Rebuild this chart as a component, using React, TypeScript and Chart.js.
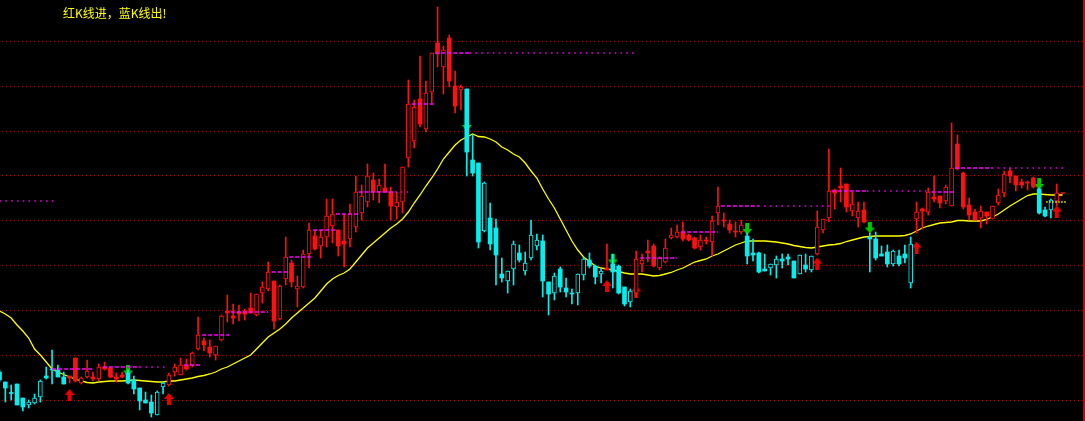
import { useEffect, useRef } from "react";
import { Chart, registerables } from "chart.js";

Chart.register(...registerables);

// ---- candle data (index 0..181) ----
const OPEN = [
  4.28, 4.18, 4.075, 4.16, 4.02, 3.95, 3.97, 4.03, 4.24, 4.31,
  4.30, 4.23, 4.24, 4.42, 4.17, 4.23, 4.23, 4.21, 4.33, 4.32,
  4.23, 4.25, 4.27, 4.20, 4.12, 4.00, 3.98, 3.85, 4.13, 4.15,
  4.28, 4.25, 4.35, 4.34, 4.51, 4.59, 4.53, 4.45, 4.60, 4.89,
  4.84, 4.88, 4.88, 4.92, 4.85, 5.07, 5.11, 5.19, 4.81, 5.21,
  5.37, 5.11, 5.13, 5.46, 5.64, 5.54, 5.63, 5.74, 5.70, 5.59,
  5.61, 5.73, 5.87, 5.98, 6.20, 6.08, 6.12, 6.08, 5.93, 5.98,
  6.42, 6.59, 7.01, 6.71, 7.08, 7.57, 7.33, 7.62, 7.14, 7.10,
  7.11, 6.40, 6.37, 5.69, 5.82, 5.72, 5.26, 5.19, 5.31, 5.47,
  5.29, 5.42, 5.54, 5.59, 5.18, 5.07, 5.31, 5.12, 5.07, 5.07,
  5.25, 5.40, 5.34, 5.26, 5.32, 5.36, 5.34, 5.13, 4.98, 5.07,
  5.36, 5.49, 5.54, 5.32, 5.38, 5.62, 5.63, 5.68, 5.65, 5.62,
  5.53, 5.60, 5.58, 5.87, 5.80, 5.76, 5.69, 5.68, 5.64, 5.47,
  5.47, 5.31, 5.32, 5.35, 5.41, 5.43, 5.39, 5.26, 5.35, 5.30,
  5.46, 5.70, 5.82, 6.10, 6.14, 6.16, 5.89, 5.82, 5.90, 5.63,
  5.61, 5.46, 5.48, 5.36, 5.44, 5.46, 5.17, 5.81, 5.91, 5.88,
  6.03, 6.04, 5.99, 5.94, 6.56, 6.27, 5.95, 5.88, 5.82, 5.88,
  5.81, 5.97, 6.07, 6.29, 6.24, 6.18, 6.18, 6.22, 6.11, 5.90,
  5.90, 5.99,
];
const HIGH = [
  4.30, 4.18, 4.15, 4.16, 4.02, 4.00, 4.06, 4.20, 4.33, 4.50,
  4.35, 4.28, 4.24, 4.42, 4.23, 4.40, 4.28, 4.36, 4.38, 4.33,
  4.27, 4.28, 4.30, 4.24, 4.12, 4.08, 4.05, 4.09, 4.18, 4.27,
  4.36, 4.42, 4.41, 4.48, 4.83, 4.62, 4.60, 4.54, 4.85, 5.05,
  4.96, 4.95, 4.91, 5.07, 5.06, 5.18, 5.38, 5.19, 5.15, 5.63,
  5.40, 5.24, 5.50, 5.77, 5.70, 5.70, 6.01, 6.01, 5.70, 5.86,
  5.96, 6.24, 6.15, 6.36, 6.27, 6.21, 6.36, 6.13, 6.08, 6.33,
  7.20, 7.00, 7.44, 7.19, 7.47, 7.93, 7.54, 7.65, 7.29, 7.15,
  7.11, 6.65, 6.37, 6.18, 5.97, 5.81, 5.42, 5.29, 5.59, 5.55,
  5.48, 5.80, 5.66, 5.65, 5.18, 5.27, 5.33, 5.22, 5.11, 5.26,
  5.43, 5.47, 5.35, 5.32, 5.56, 5.46, 5.35, 5.13, 5.11, 5.49,
  5.46, 5.60, 5.56, 5.43, 5.61, 5.72, 5.75, 5.78, 5.66, 5.63,
  5.65, 5.63, 5.84, 6.13, 5.87, 5.80, 5.78, 5.80, 5.67, 5.61,
  5.48, 5.46, 5.36, 5.44, 5.46, 5.46, 5.39, 5.45, 5.46, 5.44,
  5.89, 5.81, 6.51, 6.11, 6.32, 6.16, 6.08, 5.98, 5.98, 5.67,
  5.68, 5.54, 5.55, 5.50, 5.50, 5.55, 5.63, 5.98, 5.92, 6.12,
  6.24, 6.04, 6.15, 6.77, 6.65, 6.28, 6.02, 5.91, 5.94, 5.88,
  5.94, 6.11, 6.29, 6.32, 6.24, 6.21, 6.19, 6.23, 6.12, 5.93,
  6.01, 6.16,
];
const LOW = [
  4.18, 3.98, 4.00, 3.95, 3.89, 3.92, 3.96, 3.98, 4.21, 4.16,
  4.23, 4.16, 4.17, 4.18, 4.16, 4.22, 4.19, 4.19, 4.30, 4.22,
  4.18, 4.22, 4.16, 4.06, 3.90, 3.97, 3.83, 3.85, 4.06, 4.14,
  4.24, 4.25, 4.30, 4.33, 4.50, 4.49, 4.43, 4.40, 4.59, 4.78,
  4.76, 4.79, 4.80, 4.87, 4.84, 4.97, 5.09, 4.71, 4.80, 5.15,
  5.13, 4.93, 5.12, 5.32, 5.50, 5.42, 5.53, 5.57, 5.44, 5.33,
  5.53, 5.68, 5.80, 5.93, 6.00, 5.97, 6.08, 5.80, 5.81, 5.87,
  6.33, 6.52, 6.73, 6.68, 6.97, 7.33, 7.06, 7.13, 6.87, 6.90,
  6.24, 6.24, 5.52, 5.68, 5.50, 5.15, 5.18, 5.07, 5.15, 5.38,
  5.25, 5.40, 5.50, 5.03, 4.85, 5.00, 5.08, 5.03, 4.96, 4.95,
  5.20, 5.32, 5.16, 5.17, 5.30, 5.12, 5.06, 4.94, 4.93, 5.03,
  5.28, 5.38, 5.33, 5.30, 5.37, 5.61, 5.62, 5.59, 5.59, 5.51,
  5.50, 5.56, 5.44, 5.75, 5.73, 5.67, 5.63, 5.66, 5.36, 5.39,
  5.27, 5.29, 5.25, 5.22, 5.32, 5.35, 5.22, 5.26, 5.28, 5.28,
  5.45, 5.67, 5.78, 5.91, 5.98, 5.88, 5.84, 5.73, 5.77, 5.28,
  5.40, 5.44, 5.33, 5.34, 5.34, 5.37, 5.12, 5.67, 5.71, 5.85,
  5.98, 5.92, 5.96, 5.94, 6.30, 5.91, 5.80, 5.80, 5.72, 5.76,
  5.81, 5.95, 6.03, 6.17, 6.09, 6.12, 6.10, 6.12, 5.86, 5.83,
  5.82, 5.94,
];
const CLOSE = [
  4.20, 4.12, 4.065, 3.95, 3.93, 3.98, 4.02, 4.19, 4.22, 4.30,
  4.23, 4.16, 4.22, 4.19, 4.22, 4.29, 4.21, 4.33, 4.31, 4.23,
  4.21, 4.23, 4.17, 4.11, 3.99, 3.97, 3.87, 4.08, 4.17, 4.25,
  4.33, 4.35, 4.31, 4.47, 4.65, 4.55, 4.47, 4.54, 4.84, 4.87,
  4.82, 4.86, 4.86, 4.87, 5.06, 5.13, 5.28, 4.79, 5.14, 5.43,
  5.18, 5.14, 5.46, 5.70, 5.51, 5.63, 5.84, 5.86, 5.54, 5.56,
  5.86, 6.08, 6.04, 6.24, 6.08, 6.15, 6.08, 5.94, 5.98, 6.33,
  6.96, 6.93, 6.76, 7.07, 7.47, 7.46, 7.50, 7.19, 6.94, 7.13,
  6.48, 6.27, 5.58, 6.17, 5.56, 5.45, 5.22, 5.29, 5.56, 5.40,
  5.37, 5.65, 5.60, 5.19, 5.06, 5.24, 5.13, 5.08, 5.06, 5.26,
  5.41, 5.34, 5.23, 5.29, 5.30, 5.28, 5.07, 4.96, 5.09, 5.41,
  5.40, 5.47, 5.34, 5.42, 5.52, 5.65, 5.68, 5.61, 5.60, 5.52,
  5.60, 5.59, 5.79, 5.94, 5.79, 5.70, 5.68, 5.75, 5.44, 5.45,
  5.28, 5.29, 5.36, 5.41, 5.39, 5.41, 5.22, 5.45, 5.31, 5.44,
  5.73, 5.81, 6.09, 6.07, 6.12, 5.93, 5.96, 5.89, 5.78, 5.61,
  5.42, 5.44, 5.36, 5.49, 5.36, 5.42, 5.56, 5.88, 5.89, 6.08,
  6.01, 5.97, 6.13, 6.32, 6.31, 5.93, 5.85, 5.80, 5.89, 5.84,
  5.94, 6.05, 6.26, 6.24, 6.15, 6.15, 6.17, 6.13, 5.87, 5.84,
  6.00, 6.07,
];

// ---- moving average line (index 0..182) ----
const MA = [
  4.89, 4.86, 4.82, 4.75, 4.69, 4.62, 4.51, 4.45, 4.38, 4.31,
  4.28, 4.255, 4.23, 4.21, 4.19, 4.175, 4.17, 4.18, 4.185, 4.19,
  4.19, 4.19, 4.195, 4.20, 4.195, 4.19, 4.185, 4.18, 4.18, 4.19,
  4.19, 4.20, 4.21, 4.22, 4.235, 4.245, 4.26, 4.28, 4.31, 4.33,
  4.36, 4.39, 4.42, 4.45, 4.51, 4.57, 4.63, 4.67, 4.71, 4.76,
  4.82, 4.87, 4.92, 4.97, 5.02, 5.09, 5.16, 5.21, 5.245, 5.27,
  5.31, 5.38, 5.45, 5.52, 5.57, 5.62, 5.67, 5.72, 5.76, 5.81,
  5.88, 5.97, 6.05, 6.14, 6.22, 6.31, 6.41, 6.48, 6.55, 6.60,
  6.63, 6.66, 6.635, 6.63, 6.61, 6.58, 6.53, 6.50, 6.46, 6.43,
  6.37, 6.29, 6.22, 6.11, 6.01, 5.92, 5.81, 5.70, 5.59, 5.50,
  5.43, 5.385, 5.34, 5.32, 5.31, 5.30, 5.285, 5.27, 5.26, 5.26,
  5.26, 5.25, 5.24, 5.245, 5.26, 5.275, 5.30, 5.32, 5.35, 5.38,
  5.395, 5.41, 5.44, 5.46, 5.49, 5.52, 5.55, 5.57, 5.59, 5.59,
  5.59, 5.59, 5.585, 5.58, 5.57, 5.56, 5.545, 5.535, 5.525, 5.52,
  5.53, 5.54, 5.55, 5.555, 5.565, 5.585, 5.60, 5.615, 5.63, 5.635,
  5.64, 5.64, 5.64, 5.64, 5.64, 5.645, 5.66, 5.69, 5.72, 5.74,
  5.755, 5.77, 5.775, 5.78, 5.795, 5.795, 5.79, 5.79, 5.79, 5.805,
  5.83, 5.86, 5.90, 5.94, 5.975, 6.01, 6.045, 6.06, 6.06, 6.055,
  6.05, 6.05, 6.05,
];

// ---- signals ----
const BUY_IDX = [12, 29, 104, 109, 140, 157, 181];
const BUY_PRICE = [4.05, 4.01, 5.14, 5.085, 5.365, 5.525, 5.885];
const SELL_IDX = [22, 80, 105, 128, 149, 178];
const SELL_PRICE = [4.295, 6.75, 5.405, 5.71, 5.725, 6.16];

// ---- magenta levels: start, dashed end, dotted end (in bar index), price ----
const LEVEL_START = [0, 9.0, 17.7, 31.6, 34.7, 39.6, 46.6, 49.6, 53.7, 57.6, 61.5, 70.6, 74.6, 109.7, 116.7, 123.5, 142.5, 159.6, 163.6];
const LEVEL_DASH_END = [0, 16.0, 24.0, 34.5, 39.3, 46.0, 49.6, 53.5, 57.4, 61.5, 67.7, 74.4, 80.5, 116.0, 123.0, 129.9, 148.5, 163.4, 169.9];
const LEVEL_DOT_END = [9.5, 16.0, 28.7, 34.5, 39.3, 46.0, 49.6, 53.5, 57.4, 61.5, 70.0, 74.4, 109.1, 116.0, 123.0, 142.2, 158.8, 163.4, 182.1];
const LEVEL_PRICE = [5.99, 4.31, 4.33, 4.35, 4.65, 4.88, 5.28, 5.43, 5.70, 5.86, 6.08, 6.96, 7.47, 5.42, 5.68, 5.94, 6.09, 6.08, 6.32];

// short marks at the right end
const YELLOW_DOT_RANGE = [179.2, 182.8];
const YELLOW_DOT_PRICE = 5.98;
const RED_DASH_RANGE = [181.7, 182.4];
const RED_DASH_PRICE = 6.07;

// horizontal grid values
const GRID_VALUES = [4.0, 4.45, 4.9, 5.35, 5.8, 6.245, 6.69, 7.14, 7.59];

const X_MIN = 0.087;
const X_MAX = 185.84;
const Y_MIN = 3.79;
const Y_MAX = 8.0;

const RED = "#ff1010";
const CYAN = "#00f0f0";

function makeArrow(up: boolean, color: string): HTMLCanvasElement {
  const c = document.createElement("canvas");
  c.width = 10;
  c.height = 12;
  const g = c.getContext("2d")!;
  g.fillStyle = color;
  if (up) {
    g.beginPath();
    g.moveTo(5, 0);
    g.lineTo(10, 6);
    g.lineTo(0, 6);
    g.closePath();
    g.fill();
    g.fillRect(3, 6, 4, 6);
  } else {
    g.fillRect(3, 0, 4, 6);
    g.beginPath();
    g.moveTo(0, 6);
    g.lineTo(10, 6);
    g.lineTo(5, 12);
    g.closePath();
    g.fill();
  }
  return c;
}

const gridPlugin = {
  id: "tdxGrid",
  beforeDatasetsDraw(chart: any) {
    const { ctx, chartArea, scales } = chart;
    ctx.save();
    ctx.strokeStyle = "#b40000";
    ctx.lineWidth = 1;
    ctx.setLineDash([1, 3]);
    GRID_VALUES.forEach((v) => {
      const y = Math.round(scales.y.getPixelForValue(v)) + 0.5;
      ctx.beginPath();
      ctx.moveTo(chartArea.left + 2, y);
      ctx.lineTo(chartArea.right, y);
      ctx.stroke();
    });
    ctx.restore();
  },
  afterDraw(chart: any) {
    const { ctx, chartArea } = chart;
    ctx.save();
    ctx.fillStyle = "#d00000";
    ctx.fillRect(chartArea.right - 2, chartArea.top, 2, chartArea.bottom - chartArea.top);
    ctx.restore();
  },
};

export default function App() {
  const ref = useRef<HTMLCanvasElement | null>(null);

  useEffect(() => {
    document.body.style.margin = "0";
    document.body.style.background = "#000";
    if (!ref.current) return;

    // zone colour: red after a buy signal, cyan after a sell signal
    const colors: string[] = [];
    let red = false;
    for (let j = 0; j < OPEN.length; j++) {
      if (BUY_IDX.includes(j)) red = true;
      if (SELL_IDX.includes(j)) red = false;
      colors.push(red ? RED : CYAN);
    }
    const filled = OPEN.map((o, j) => CLOSE[j] < o);

    const wickData = OPEN.map((_, j) => ({ x: j, y: [LOW[j], HIGH[j]] }));
    const bodyData = OPEN.map((o, j) => ({ x: j, y: [Math.min(o, CLOSE[j]), Math.max(o, CLOSE[j])] }));

    const datasets: any[] = [];

    datasets.push({
      type: "line",
      data: BUY_IDX.map((j, k) => ({ x: j, y: BUY_PRICE[k] })),
      showLine: false,
      pointStyle: makeArrow(true, "#e80000"),
      pointRadius: 6,
      order: 6,
    });
    datasets.push({
      type: "line",
      data: SELL_IDX.map((j, k) => ({ x: j, y: SELL_PRICE[k] })),
      showLine: false,
      pointStyle: makeArrow(false, "#00c800"),
      pointRadius: 6,
      order: 6,
    });
    datasets.push({
      type: "line",
      data: MA.map((v, j) => ({ x: j, y: v })),
      borderColor: "#ffff00",
      borderWidth: 1.3,
      pointRadius: 0,
      tension: 0,
      order: 5,
    });
    datasets.push({
      type: "bar",
      data: wickData,
      backgroundColor: colors,
      barThickness: 1,
      grouped: false,
      order: 4,
    });
    datasets.push({
      type: "bar",
      data: bodyData,
      backgroundColor: colors.map((c, j) => (filled[j] ? c : "#000000")),
      borderColor: colors,
      borderWidth: filled.map((f) => (f ? 0 : 1)),
      borderSkipped: false,
      barThickness: 4,
      grouped: false,
      order: 3,
    });

    LEVEL_PRICE.forEach((p, k) => {
      if (LEVEL_DASH_END[k] > LEVEL_START[k]) {
        datasets.push({
          type: "line",
          data: [
            { x: LEVEL_START[k], y: p },
            { x: LEVEL_DASH_END[k], y: p },
          ],
          borderColor: "#ff00ff",
          borderWidth: 1.6,
          borderDash: [4, 2],
          pointRadius: 0,
          order: 1,
        });
      }
      if (LEVEL_DOT_END[k] > LEVEL_DASH_END[k]) {
        datasets.push({
          type: "line",
          data: [
            { x: Math.max(LEVEL_DASH_END[k], LEVEL_START[k]), y: p },
            { x: LEVEL_DOT_END[k], y: p },
          ],
          borderColor: "#e000e0",
          borderWidth: 1.6,
          borderDash: [1.6, 4.2],
          pointRadius: 0,
          order: 1,
        });
      }
    });

    datasets.push({
      type: "line",
      data: [
        { x: YELLOW_DOT_RANGE[0], y: YELLOW_DOT_PRICE },
        { x: YELLOW_DOT_RANGE[1], y: YELLOW_DOT_PRICE },
      ],
      borderColor: "#ffff00",
      borderWidth: 1.5,
      borderDash: [1.5, 1.5],
      pointRadius: 0,
      order: 1,
    });
    datasets.push({
      type: "line",
      data: [
        { x: RED_DASH_RANGE[0], y: RED_DASH_PRICE },
        { x: RED_DASH_RANGE[1], y: RED_DASH_PRICE },
      ],
      borderColor: RED,
      borderWidth: 1.5,
      pointRadius: 0,
      order: 1,
    });

    const chart = new Chart(ref.current, {
      type: "bar",
      data: { datasets },
      options: {
        responsive: false,
        animation: false,
        devicePixelRatio: 1,
        events: [],
        layout: { padding: 0, autoPadding: false },
        plugins: { legend: { display: false }, tooltip: { enabled: false } },
        scales: {
          x: { type: "linear", min: X_MIN, max: X_MAX, offset: false, display: false },
          y: { type: "linear", min: Y_MIN, max: Y_MAX, display: false },
        },
      } as any,
      plugins: [gridPlugin],
    });
    return () => chart.destroy();
  }, []);

  return (
    <div style={{ position: "relative", width: 1085, height: 421, background: "#000", overflow: "hidden" }}>
      <canvas ref={ref} width={1085} height={421} style={{ display: "block" }} />
      <div
        style={{
          position: "absolute",
          left: 63,
          top: 6,
          color: "#ffff00",
          fontFamily: '"Noto Sans CJK SC", sans-serif',
          fontSize: 12,
          lineHeight: "14px",
          whiteSpace: "nowrap",
        }}
      >
        红K线进，蓝K线出!
      </div>
    </div>
  );
}
